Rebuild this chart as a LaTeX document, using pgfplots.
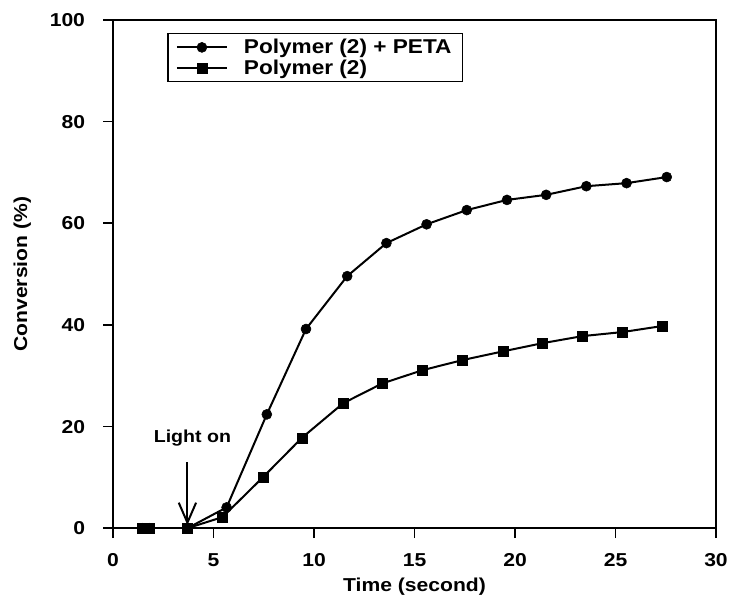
\documentclass[border=0pt]{standalone}
\usepackage{fontspec}
\setmainfont{Liberation Sans}[FakeStretch=1.13]
\usepackage{pgfplots}
\pgfplotsset{compat=1.18}
\usetikzlibrary{arrows.meta,calc}
\newcommand\lbl{\fontsize{14pt}{16pt}\selectfont\bfseries}
\begin{document}
\begin{tikzpicture}
\begin{axis}[
  scale only axis, width=452pt, height=381pt,
  xmin=0, xmax=30, ymin=0, ymax=100,
  xtick={0,5,...,30}, ytick={0,20,...,100},
  tick align=outside, major tick length=7.5pt,
  xtick pos=bottom, ytick pos=left,
  axis line style={line width=1.2pt},
  tick style={line width=1.2pt, black},
  ticklabel style={font=\lbl},
  xticklabel style={yshift=-8pt},
  yticklabel style={xshift=-10pt},
  /pgf/number format/assume math mode=true,
  label style={font=\lbl},
  xlabel={Time (second)}, ylabel={Conversion (\%)},
  xlabel style={at={(rel axis cs:0.5,0)}, anchor=center, yshift=-44pt},
  ylabel style={at={(rel axis cs:0,0.5)}, anchor=center, yshift=68pt},
  legend style={at={(rel axis cs:0.09,0.974)}, anchor=north west,
    font=\fontsize{15pt}{17pt}\selectfont\bfseries,
    draw=black, line width=0.9pt, inner xsep=6pt, inner ysep=2pt, row sep=-1pt,
    /tikz/every odd column/.append style={column sep=10pt}},
  legend cell align=left,
  legend image code/.code={\draw[mark repeat=2,mark phase=2,#1] plot coordinates {(0pt,0pt) (18.75pt,0pt) (37.5pt,0pt)};},
]
\addplot[black, line width=1.5pt, mark=*, mark size=3.75pt, mark options={solid, fill=black, line width=0.4pt}]
coordinates {(1.45,0) (1.8,0) (3.7,0) (5.65,4.1) (7.65,22.4) (9.6,39.2) (11.65,49.6) (13.6,56.1) (15.6,59.8) (17.6,62.6) (19.6,64.6) (21.55,65.6) (23.55,67.3) (25.55,67.9) (27.55,69.1)};
\addlegendentry{Polymer (2) + PETA}
\addplot[black, line width=1.5pt, mark=square*, mark size=3.75pt, mark options={solid, fill=black, line width=0.4pt}]
coordinates {(1.45,0) (1.8,0) (3.7,0) (5.45,2.2) (7.45,10.0) (9.4,17.8) (11.45,24.6) (13.4,28.5) (15.4,31.1) (17.4,33.1) (19.4,34.8) (21.35,36.4) (23.35,37.8) (25.35,38.6) (27.35,39.8)};
\addlegendentry{Polymer (2)}
\node[font=\fontsize{13pt}{15pt}\selectfont\bfseries] at (axis cs:3.95,17.7) {Light on};
\draw[line width=1.5pt, -{Straight Barb[length=15pt,width=13pt,line width=1.5pt]}] (axis cs:3.7,13) -- (axis cs:3.7,0.6);
\end{axis}
\pgfresetboundingbox
\path[use as bounding box] ($(current axis.south west)+(-84.75pt,-55.5pt)$) rectangle ($(current axis.north east)+(12.75pt,15pt)$);
\end{tikzpicture}
\end{document}
